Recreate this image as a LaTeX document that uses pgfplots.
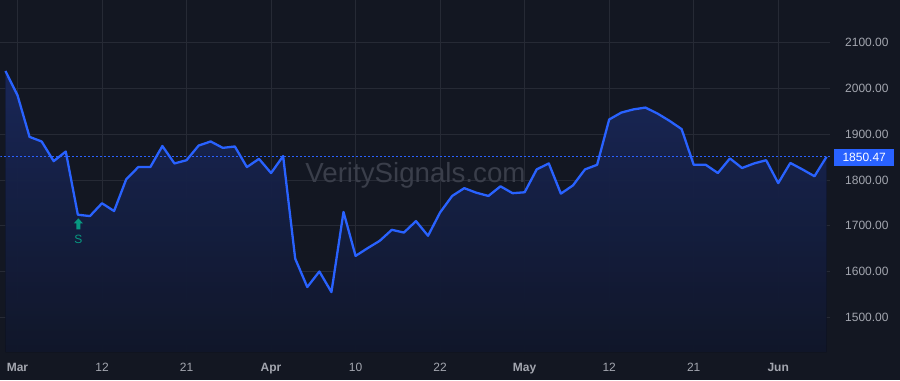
\documentclass[border=0pt]{standalone}
\usepackage{fontspec}
\setmainfont{Liberation Sans}
\usepackage{pgfplots}
\usepackage{pgfplotstable}
\pgfplotsset{compat=1.18}
\usepgfplotslibrary{fillbetween}
\definecolor{bg}{HTML}{131722}
\definecolor{gridc}{HTML}{262A35}
\definecolor{linec}{HTML}{2962FF}
\definecolor{labc}{HTML}{A3A6AF}
\definecolor{wm}{HTML}{3A3E4A}
\definecolor{sig}{HTML}{089981}
\definecolor{filltop}{HTML}{1D2D66}
\definecolor{fillbot}{HTML}{131A30}
\pgfdeclareplotmark{sigarrow}{%
  \pgfpathmoveto{\pgfpoint{0bp}{5.5bp}}%
  \pgfpathlineto{\pgfpoint{4.5bp}{0.5bp}}%
  \pgfpathlineto{\pgfpoint{2bp}{0.5bp}}%
  \pgfpathlineto{\pgfpoint{2bp}{-5.5bp}}%
  \pgfpathlineto{\pgfpoint{-2bp}{-5.5bp}}%
  \pgfpathlineto{\pgfpoint{-2bp}{0.5bp}}%
  \pgfpathlineto{\pgfpoint{-4.5bp}{0.5bp}}%
  \pgfpathclose
  \pgfusepathqfill}
\pgfplotstableread{
i v
0 2038
1 1985
2 1894
3 1884
4 1841
5 1862
6 1724
7 1721
8 1749
9 1732
10 1801
11 1828
12 1828
13 1874
14 1836
15 1843
16 1875
17 1884
18 1870
19 1873
20 1828
21 1846
22 1815
23 1852
24 1628
25 1566
26 1600
27 1555
28 1730
29 1634
30 1651
31 1667
32 1691
33 1685
34 1710
35 1678
36 1729
37 1765
38 1782
39 1772
40 1765
41 1786
42 1771
43 1773
44 1823
45 1836
46 1770
47 1788
48 1823
49 1833
50 1932
51 1947
52 1954
53 1958
54 1945
55 1929
56 1911
57 1833
58 1833
59 1815
60 1847
61 1826
62 1836
63 1843
64 1793
65 1837
66 1823
67 1808
68 1850.47
}\pricedata
\begin{document}
\begin{tikzpicture}
\begin{axis}[
  at={(0,0)}, anchor=south west,
  scale only axis, width=830bp, height=352bp,
  xmin=-0.414, xmax=68.29, ymin=1423.6, ymax=2192.1,
  clip mode=individual,
  set layers,
  axis line style={draw=none},
  major tick length=0pt,
  grid=major,
  major grid style={draw=gridc, line width=0.8bp},
  ytick={1500,1600,1700,1800,1900,2000,2100},
  yticklabels={1500.00,1600.00,1700.00,1800.00,1900.00,2000.00,2100.00},
  yticklabel pos=right,
  yticklabel style={anchor=west, inner sep=0pt, xshift=15bp, font=\fontsize{12bp}{14bp}\selectfont, text=labc},
  xtick={1,8,15,22,29,36,43,50,57,64},
  xticklabels={\textbf{Mar},12,21,\textbf{Apr},10,22,\textbf{May},12,21,\textbf{Jun}},
  xticklabel style={anchor=base, inner sep=0pt, yshift=-19.7bp, font=\fontsize{12bp}{14bp}\selectfont, text=labc},
]
\begin{pgfonlayer}{axis background}
\fill[bg] ([yshift=-28bp]rel axis cs:0,0) rectangle ([xshift=70bp]rel axis cs:1,1);
\end{pgfonlayer}
\node[anchor=base west, inner sep=0pt, text=wm, font=\fontsize{27.7bp}{30bp}\selectfont] at (axis cs:24.83,1795.4) {VeritySignals.com};
\addplot[draw=none, name path=price] table[x=i, y=v] {\pricedata};
\addplot[draw=none, name path=base] coordinates {(0,1423.6) (68,1423.6)};
\addplot[top color=filltop, bottom color=fillbot, draw=none, fill opacity=0.85] fill between[of=price and base];
\addplot[linec, line width=1bp, dash pattern=on 2bp off 2bp] coordinates {(-0.414,1850.47) (68.29,1850.47)};
\addplot[linec, line width=2.3bp, line join=round, mark=none] table[x=i, y=v] {\pricedata};
\addplot[only marks, mark=sigarrow, color=sig] coordinates {(6.04,1704.1)};
\node[text=sig, inner sep=0pt, font=\fontsize{12bp}{14bp}\selectfont] at (axis cs:6.04,1669.2) {S};
\node[fill=linec, text=white, inner sep=0pt, minimum width=60bp, minimum height=17bp, anchor=west, xshift=4bp, yshift=-1bp, font=\fontsize{12bp}{14bp}\selectfont] at (axis cs:68.29,1850.47) {1850.47};
\end{axis}
\end{tikzpicture}
\end{document}
